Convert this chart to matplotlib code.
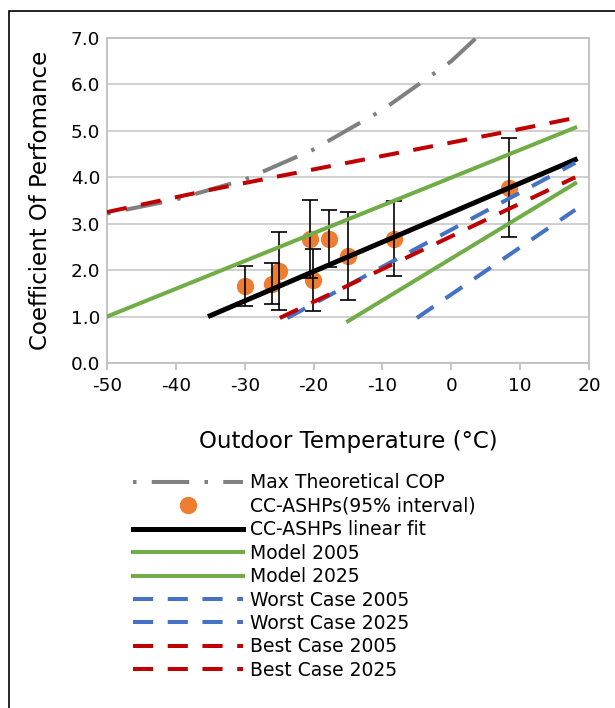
import matplotlib.pyplot as plt
from matplotlib.patches import Rectangle

plt.rcParams['axes.unicode_minus'] = False
plt.rcParams['lines.scale_dashes'] = False
plt.rcParams['font.family'] = ['DejaVu Sans']

# Max theoretical COP (gray dash-dot curve)
max_t = [-50, -40, -30, -20, -10, 0, 3.6]
max_cop = [3.22, 3.52, 3.95, 4.6, 5.45, 6.5, 7.0]

# CC-ASHP measurements with 95% interval
pts_t = [-30.0, -26.1, -25.05, -20.5, -20.05, -17.8, -15.0, -8.3, 8.4]
pts_cop = [1.66, 1.70, 1.98, 2.67, 1.79, 2.67, 2.31, 2.67, 3.78]
pts_hi = [2.10, 2.15, 2.83, 3.51, 2.46, 3.30, 3.26, 3.48, 4.85]
pts_lo = [1.23, 1.28, 1.15, 1.84, 1.11, 2.06, 1.36, 1.88, 2.72]

fit_t = [-35, 18]
fit_cop = [1.02, 4.38]

model05_t = [-15, 18]
model05_cop = [0.9, 3.87]
model25_t = [-50, 18]
model25_cop = [1.0, 5.07]

worst05_t = [-5, 18]
worst05_cop = [0.97, 3.3]
worst25_t = [-23.8, 18]
worst25_cop = [0.97, 4.31]

best05_t = [-24.9, 18]
best05_cop = [0.97, 4.0]
best25_t = [-50, -35, -20, 8, 18]
best25_cop = [3.25, 3.73, 4.17, 4.98, 5.28]

fig = plt.figure(figsize=(6.15, 7.08), dpi=100)
ax = fig.add_axes([107 / 615, 1 - 363 / 708, 482 / 615, 325 / 708])

ax.plot(max_t, max_cop, color='#808080', lw=2.9, dashes=(2.5, 11, 27, 11),
        label='Max Theoretical COP', zorder=3)
ax.errorbar(pts_t, pts_cop,
            yerr=[[c - l for c, l in zip(pts_cop, pts_lo)],
                  [h - c for c, h in zip(pts_cop, pts_hi)]],
            fmt='none', ecolor='black', elinewidth=1.2, capsize=5.5, capthick=1.2, zorder=5)
ax.plot(pts_t, pts_cop, 'o', color='#ED7D31', ms=12.5, mec='none',
        label='CC-ASHPs(95% interval)', zorder=4)
ax.plot(fit_t, fit_cop, color='black', lw=3.6, label='CC-ASHPs linear fit', zorder=6)
ax.plot(model05_t, model05_cop, color='#70AD47', lw=2.9, label='Model 2005', zorder=6)
ax.plot(model25_t, model25_cop, color='#70AD47', lw=2.9, label='Model 2025', zorder=6)
ax.plot(worst05_t, worst05_cop, color='#4472C4', lw=2.9, dashes=(14.5, 10.5),
        label='Worst Case 2005', zorder=7)
ax.plot(worst25_t, worst25_cop, color='#4472C4', lw=2.9, dashes=(14.5, 10.5),
        label='Worst Case 2025', zorder=7)
ax.plot(best05_t, best05_cop, color='#C00000', lw=2.9, dashes=(14.5, 10.5),
        label='Best Case 2005', zorder=8)
ax.plot(best25_t, best25_cop, color='#C00000', lw=2.9, dashes=(14.5, 10.5),
        label='Best Case 2025', zorder=8)

ax.set_xlim(-50, 20)
ax.set_ylim(0, 7)
ax.set_xticks(range(-50, 21, 10))
ax.set_yticks(range(0, 8))
ax.set_yticklabels([f'{v:.1f}' for v in range(0, 8)])
ax.yaxis.grid(True, color='#C8C8C8', lw=1.2)
ax.set_axisbelow(True)
for s in ax.spines.values():
    s.set_color('#BFBFBF')
    s.set_linewidth(1.3)
ax.tick_params(axis='x', length=5, color='#BFBFBF', width=1.3, pad=5, labelsize=13.3)
ax.tick_params(axis='y', length=0, pad=5, labelsize=13.3)

ax.set_xlabel('Outdoor Temperature (°C)', fontsize=16.5, labelpad=25)
ax.set_ylabel('Coefficient Of Perfomance', fontsize=16.5, labelpad=13)

handles, labels = ax.get_legend_handles_labels()
fig.legend(handles, labels, loc='upper left', bbox_to_anchor=(125 / 615, 1 - 466 / 708),
           frameon=False, fontsize=13.5, handlelength=5.9, handletextpad=0.37,
           labelspacing=0.235, borderaxespad=0)

fig.patches.append(Rectangle((9 / 615, -0.1), 1.2, 1.1 - 11 / 708, transform=fig.transFigure,
                             fill=False, edgecolor='black', lw=1.2, zorder=0))

fig.savefig('out.png', dpi=100)
